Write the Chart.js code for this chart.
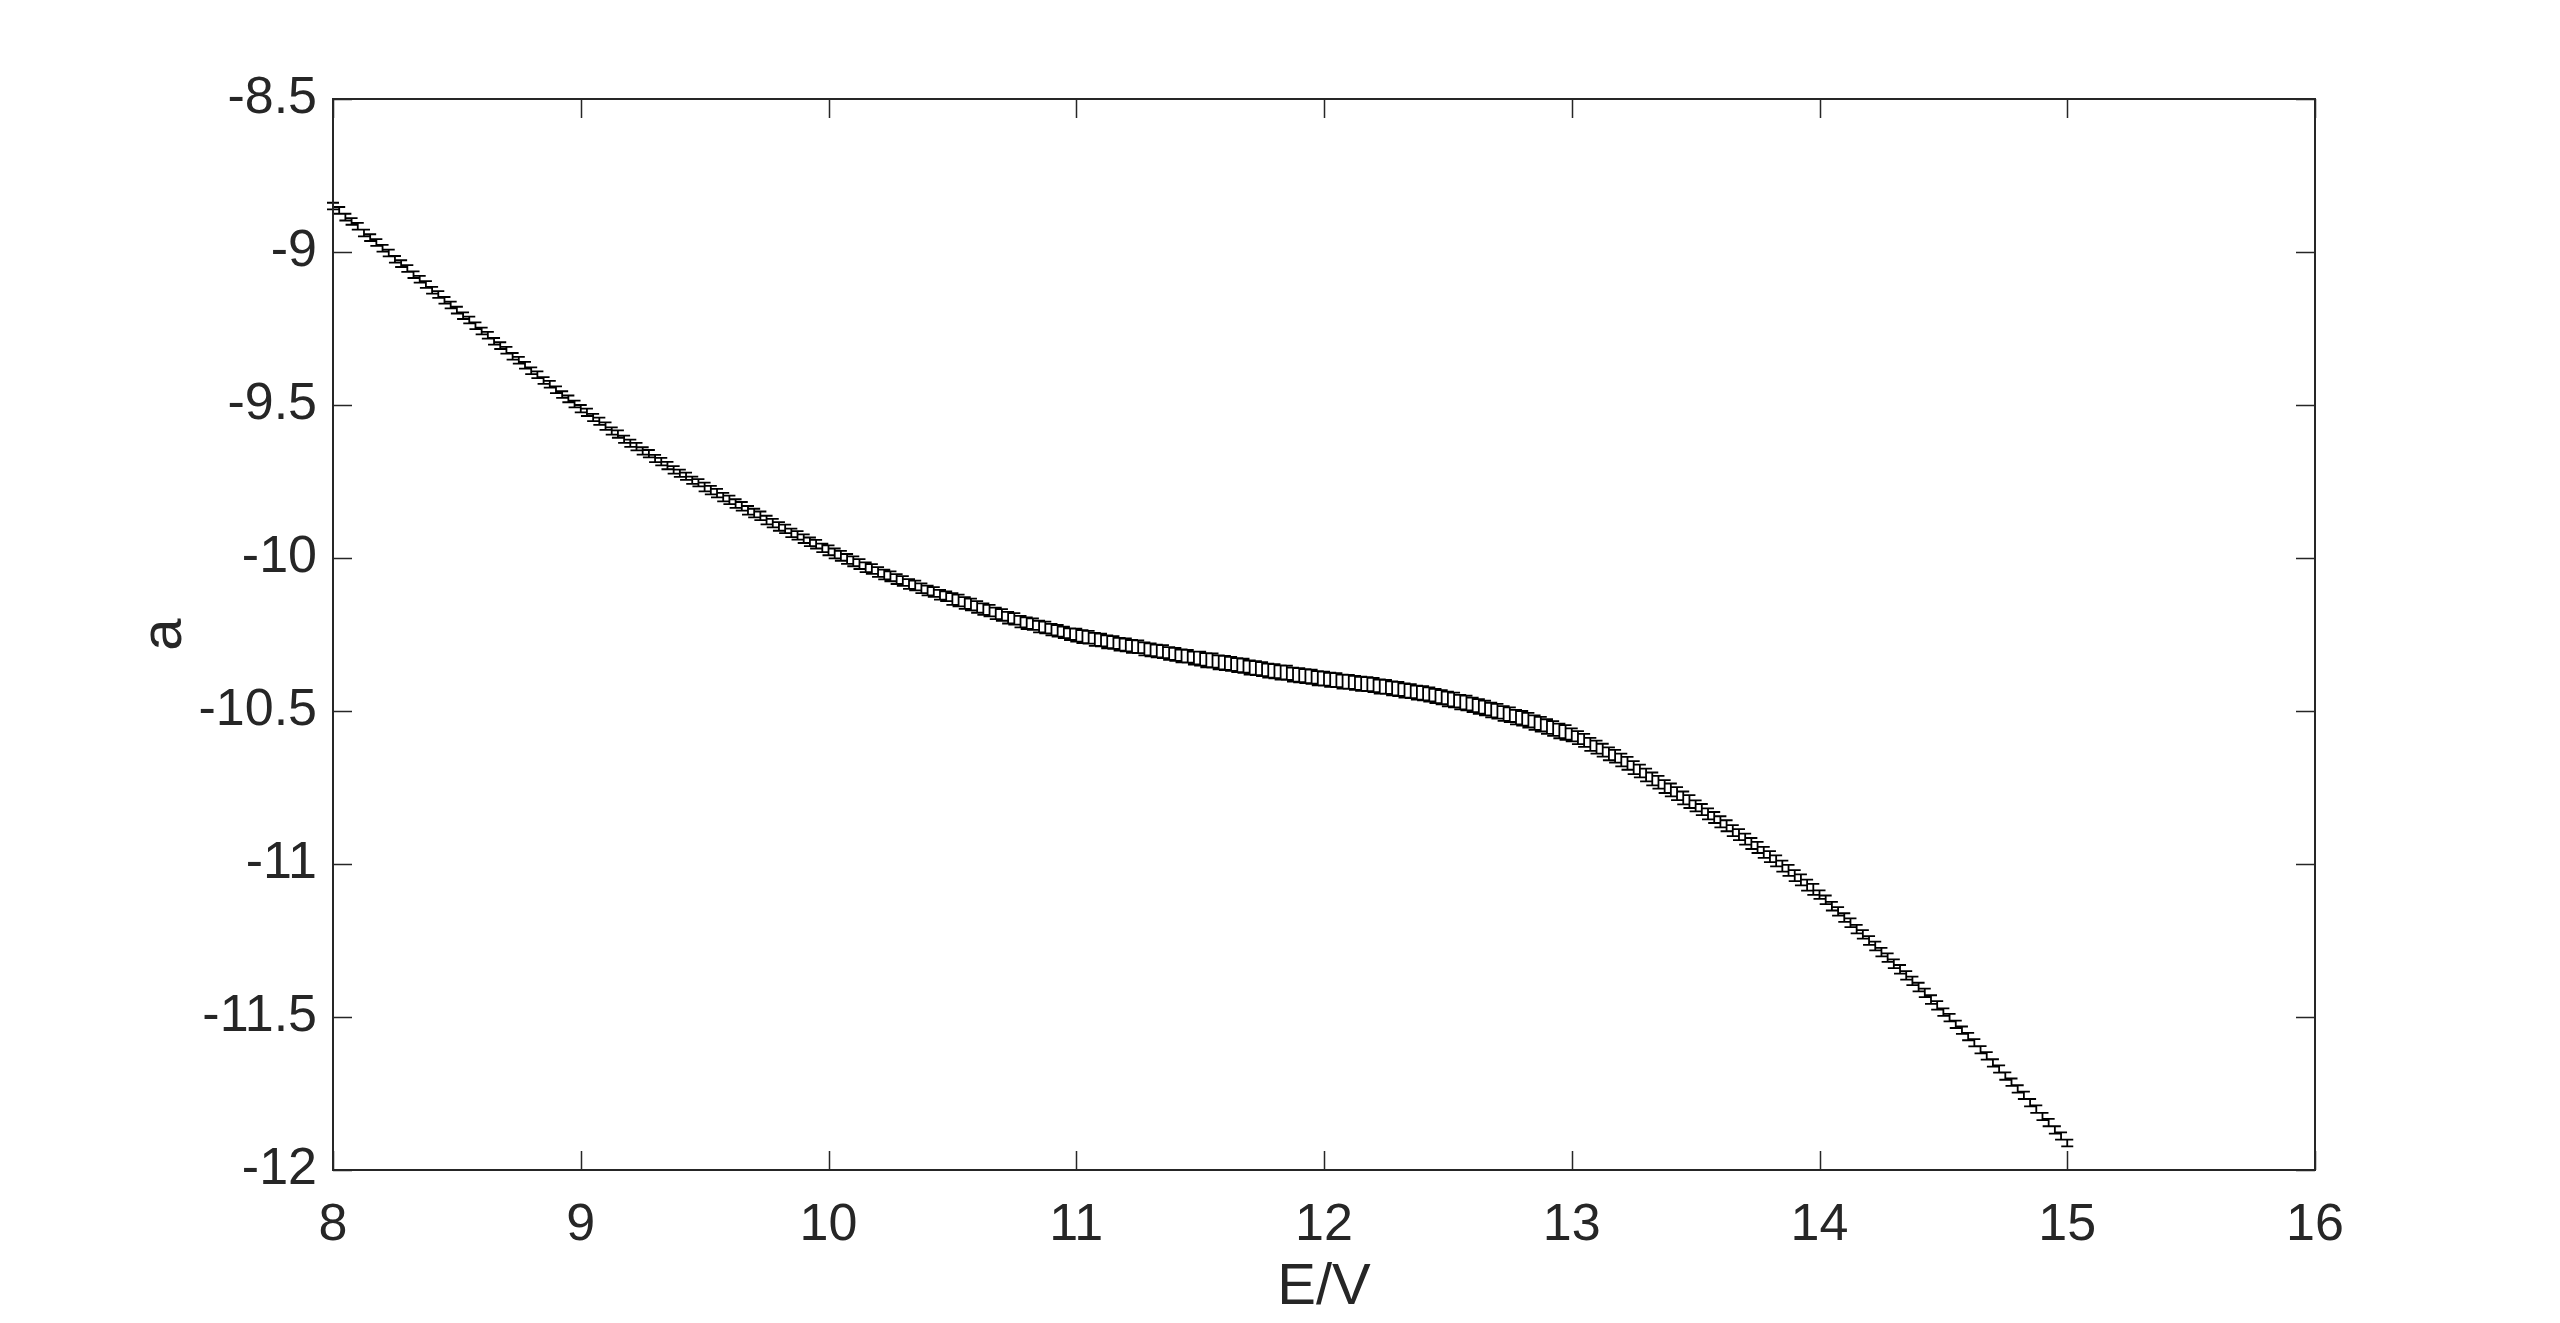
<!DOCTYPE html>
<html>
<head>
<meta charset="utf-8">
<script src="https://cdn.jsdelivr.net/npm/chart.js@4.4.1/dist/chart.umd.min.js"></script>
<style>
  html, body { margin: 0; padding: 0; background: #fff; }
  #wrap { width: 2560px; height: 1323px; }
</style>
</head>
<body>
<div id="wrap"><canvas id="myChart"></canvas></div>
<script>
// measured energies (E/V)
const energies = [
  8.000, 8.025, 8.050, 8.075, 8.100, 8.125, 8.150, 8.175, 8.200, 8.225, 8.250, 8.275, 8.300, 8.325, 8.350, 8.375,
  8.400, 8.425, 8.450, 8.475, 8.500, 8.525, 8.550, 8.575, 8.600, 8.625, 8.650, 8.675, 8.700, 8.725, 8.750, 8.775,
  8.800, 8.825, 8.850, 8.875, 8.900, 8.925, 8.950, 8.975, 9.000, 9.025, 9.050, 9.075, 9.100, 9.125, 9.150, 9.175,
  9.200, 9.225, 9.250, 9.275, 9.300, 9.325, 9.350, 9.375, 9.400, 9.425, 9.450, 9.475, 9.500, 9.525, 9.550, 9.575,
  9.600, 9.625, 9.650, 9.675, 9.700, 9.725, 9.750, 9.775, 9.800, 9.825, 9.850, 9.875, 9.900, 9.925, 9.950, 9.975,
  10.000, 10.025, 10.050, 10.075, 10.100, 10.125, 10.150, 10.175, 10.200, 10.225, 10.250, 10.275, 10.300, 10.325, 10.350, 10.375,
  10.400, 10.425, 10.450, 10.475, 10.500, 10.525, 10.550, 10.575, 10.600, 10.625, 10.650, 10.675, 10.700, 10.725, 10.750, 10.775,
  10.800, 10.825, 10.850, 10.875, 10.900, 10.925, 10.950, 10.975, 11.000, 11.025, 11.050, 11.075, 11.100, 11.125, 11.150, 11.175,
  11.200, 11.225, 11.250, 11.275, 11.300, 11.325, 11.350, 11.375, 11.400, 11.425, 11.450, 11.475, 11.500, 11.525, 11.550, 11.575,
  11.600, 11.625, 11.650, 11.675, 11.700, 11.725, 11.750, 11.775, 11.800, 11.825, 11.850, 11.875, 11.900, 11.925, 11.950, 11.975,
  12.000, 12.025, 12.050, 12.075, 12.100, 12.125, 12.150, 12.175, 12.200, 12.225, 12.250, 12.275, 12.300, 12.325, 12.350, 12.375,
  12.400, 12.425, 12.450, 12.475, 12.500, 12.525, 12.550, 12.575, 12.600, 12.625, 12.650, 12.675, 12.700, 12.725, 12.750, 12.775,
  12.800, 12.825, 12.850, 12.875, 12.900, 12.925, 12.950, 12.975, 13.000, 13.025, 13.050, 13.075, 13.100, 13.125, 13.150, 13.175,
  13.200, 13.225, 13.250, 13.275, 13.300, 13.325, 13.350, 13.375, 13.400, 13.425, 13.450, 13.475, 13.500, 13.525, 13.550, 13.575,
  13.600, 13.625, 13.650, 13.675, 13.700, 13.725, 13.750, 13.775, 13.800, 13.825, 13.850, 13.875, 13.900, 13.925, 13.950, 13.975,
  14.000, 14.025, 14.050, 14.075, 14.100, 14.125, 14.150, 14.175, 14.200, 14.225, 14.250, 14.275, 14.300, 14.325, 14.350, 14.375,
  14.400, 14.425, 14.450, 14.475, 14.500, 14.525, 14.550, 14.575, 14.600, 14.625, 14.650, 14.675, 14.700, 14.725, 14.750, 14.775,
  14.800, 14.825, 14.850, 14.875, 14.900, 14.925, 14.950, 14.975, 15.000
];

// a values
const aValues = [
  -8.850, -8.864, -8.886, -8.900, -8.916, -8.938, -8.953, -8.969, -8.988, -9.003, -9.024, -9.038, -9.054, -9.074, -9.089, -9.106,
  -9.125, -9.139, -9.158, -9.173, -9.190, -9.208, -9.222, -9.241, -9.258, -9.272, -9.292, -9.306, -9.321, -9.341, -9.354, -9.370,
  -9.388, -9.401, -9.420, -9.432, -9.450, -9.466, -9.480, -9.497, -9.512, -9.524, -9.541, -9.553, -9.569, -9.585, -9.595, -9.612,
  -9.625, -9.636, -9.650, -9.659, -9.675, -9.685, -9.698, -9.712, -9.723, -9.733, -9.746, -9.754, -9.768, -9.778, -9.788, -9.801,
  -9.810, -9.822, -9.831, -9.844, -9.853, -9.862, -9.876, -9.886, -9.897, -9.905, -9.918, -9.926, -9.937, -9.947, -9.955, -9.967,
  -9.975, -9.985, -9.993, -10.003, -10.011, -10.020, -10.030, -10.036, -10.046, -10.054, -10.060, -10.069, -10.075, -10.085, -10.090, -10.099,
  -10.106, -10.111, -10.120, -10.125, -10.134, -10.139, -10.147, -10.152, -10.160, -10.167, -10.172, -10.181, -10.186, -10.195, -10.199, -10.208,
  -10.213, -10.216, -10.224, -10.227, -10.234, -10.238, -10.243, -10.249, -10.252, -10.257, -10.259, -10.266, -10.268, -10.274, -10.276, -10.282,
  -10.284, -10.289, -10.290, -10.297, -10.300, -10.304, -10.306, -10.312, -10.315, -10.320, -10.321, -10.327, -10.329, -10.334, -10.335, -10.341,
  -10.343, -10.346, -10.350, -10.352, -10.358, -10.360, -10.363, -10.368, -10.370, -10.374, -10.375, -10.381, -10.383, -10.386, -10.388, -10.393,
  -10.394, -10.398, -10.399, -10.404, -10.405, -10.408, -10.411, -10.412, -10.415, -10.420, -10.421, -10.426, -10.428, -10.433, -10.435, -10.440,
  -10.442, -10.446, -10.451, -10.455, -10.461, -10.464, -10.471, -10.474, -10.480, -10.485, -10.490, -10.497, -10.501, -10.508, -10.512, -10.520,
  -10.524, -10.530, -10.538, -10.543, -10.551, -10.557, -10.565, -10.570, -10.578, -10.587, -10.596, -10.609, -10.618, -10.628, -10.640, -10.648,
  -10.660, -10.671, -10.685, -10.696, -10.709, -10.722, -10.733, -10.747, -10.758, -10.770, -10.784, -10.796, -10.810, -10.822, -10.836, -10.848,
  -10.862, -10.875, -10.891, -10.904, -10.919, -10.933, -10.946, -10.962, -10.976, -10.990, -11.007, -11.021, -11.038, -11.052, -11.069, -11.083,
  -11.100, -11.117, -11.138, -11.155, -11.175, -11.192, -11.213, -11.230, -11.250, -11.268, -11.288, -11.306, -11.326, -11.344, -11.364, -11.382,
  -11.402, -11.421, -11.443, -11.462, -11.484, -11.502, -11.524, -11.543, -11.564, -11.584, -11.607, -11.627, -11.650, -11.670, -11.693, -11.713,
  -11.735, -11.756, -11.780, -11.801, -11.825, -11.845, -11.869, -11.889, -11.912
];

// error bar half-size, one value per 0.5 V bin starting at 8 V
const errBins = [0.011, 0.011, 0.012, 0.014, 0.016, 0.019, 0.021, 0.023, 0.023, 0.024, 0.021, 0.018, 0.014, 0.012, 0.011];

const xTicks = [8, 9, 10, 11, 12, 13, 14, 15, 16];
const yTicks = [-12, -11.5, -11, -10.5, -10, -9.5, -9, -8.5];

const ink = '#262626';
const fontFamily = '"Liberation Sans", Arial, Helvetica, sans-serif';

const points = energies.map(function(e, i) { return { x: e, y: aValues[i] }; });

// draws the error bars (vertical bar + caps) for every point
const errorBars = {
  id: 'errorBars',
  afterDatasetsDraw: function(chart) {
    const ctx = chart.ctx;
    const xs = chart.scales.x, ys = chart.scales.y;
    ctx.save();
    ctx.strokeStyle = '#000';
    ctx.lineWidth = 1.8;
    ctx.beginPath();
    energies.forEach(function(e, i) {
      const bin = Math.min(errBins.length - 1, Math.floor((e - 8) / 0.5));
      const err = errBins[bin];
      const px = xs.getPixelForValue(e);
      const top = ys.getPixelForValue(aValues[i] + err);
      const bot = ys.getPixelForValue(aValues[i] - err);
      ctx.moveTo(px, top); ctx.lineTo(px, bot);
      ctx.moveTo(px - 6, top); ctx.lineTo(px + 6, top);
      ctx.moveTo(px - 6, bot); ctx.lineTo(px + 6, bot);
    });
    ctx.stroke();
    ctx.restore();
  }
};

// box around the plot with inward ticks on all four sides
const boxTicks = {
  id: 'boxTicks',
  afterDraw: function(chart) {
    const ctx = chart.ctx;
    const a = chart.chartArea;
    const xs = chart.scales.x, ys = chart.scales.y;
    const len = 19;
    ctx.save();
    ctx.strokeStyle = ink;
    ctx.lineWidth = 1.5;
    ctx.beginPath();
    xTicks.forEach(function(v) {
      const px = Math.round(xs.getPixelForValue(v)) + 0.5;
      ctx.moveTo(px, a.bottom); ctx.lineTo(px, a.bottom - len);
      ctx.moveTo(px, a.top); ctx.lineTo(px, a.top + len);
    });
    yTicks.forEach(function(v) {
      const py = Math.round(ys.getPixelForValue(v)) + 0.5;
      ctx.moveTo(a.left, py); ctx.lineTo(a.left + len, py);
      ctx.moveTo(a.right, py); ctx.lineTo(a.right - len, py);
    });
    ctx.stroke();
    ctx.lineWidth = 2;
    ctx.strokeRect(a.left, a.top, a.right - a.left, a.bottom - a.top);
    ctx.restore();
  }
};

const ctx = document.getElementById('myChart').getContext('2d');
new Chart(ctx, {
  type: 'scatter',
  data: {
    datasets: [{
      label: 'a',
      data: points,
      showLine: false,
      pointRadius: 0,
      pointHoverRadius: 0
    }]
  },
  options: {
    responsive: true,
    maintainAspectRatio: false,
    animation: false,
    events: [],
    layout: { padding: { left: 0, top: 99, right: 245, bottom: 0 } },
    plugins: {
      legend: { display: false },
      tooltip: { enabled: false }
    },
    scales: {
      x: {
        type: 'linear',
        min: 8,
        max: 16,
        afterBuildTicks: function(scale) { scale.ticks = xTicks.map(function(v) { return { value: v }; }); },
        afterFit: function(scale) { scale.height = 153; },
        grid: { display: false, drawTicks: false },
        border: { display: false },
        ticks: {
          color: ink,
          padding: 24,
          maxRotation: 0,
          font: { family: fontFamily, size: 52 }
        },
        title: {
          display: true,
          text: 'E/V',
          color: ink,
          padding: { top: 0, bottom: 0 },
          font: { family: fontFamily, size: 58 }
        }
      },
      y: {
        type: 'linear',
        min: -12,
        max: -8.5,
        afterBuildTicks: function(scale) { scale.ticks = yTicks.map(function(v) { return { value: v }; }); },
        afterFit: function(scale) { scale.width = 333; },
        grid: { display: false, drawTicks: false },
        border: { display: false },
        ticks: {
          color: ink,
          padding: 16,
          font: { family: fontFamily, size: 52 },
          callback: function(v) { return String(v); }
        },
        title: {
          display: true,
          text: 'a',
          color: ink,
          padding: { top: 130, bottom: 0 },
          font: { family: fontFamily, size: 58 }
        }
      }
    }
  },
  plugins: [errorBars, boxTicks]
});
</script>
</body>
</html>
